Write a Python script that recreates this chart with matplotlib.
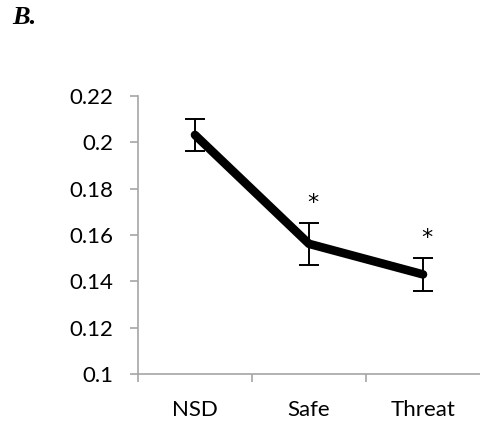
import matplotlib
matplotlib.use("Agg")
import matplotlib.pyplot as plt
import numpy as np

# values
groups = ["NSD", "Safe", "Threat"]
means = [0.2032, 0.1562, 0.1430]
errors = [0.0068, 0.0090, 0.0070]
signif = ["", "*", "*"]

axis_grey = "#a6a6a6"
x = np.arange(1, len(groups) + 1)

fig = plt.figure(figsize=(4.8, 4.25), dpi=100)
ax = fig.add_axes([0.2875, 0.12, 0.7125, 0.654])

ax.plot(x, means, color="black", lw=6.2, solid_capstyle="round",
        solid_joinstyle="round", zorder=3)
ax.errorbar(x, means, yerr=errors, fmt="none", ecolor="black",
            elinewidth=1.4, capsize=7.5, capthick=1.4, zorder=2)
for xi, m, e, s in zip(x, means, errors, signif):
    if s:
        ax.text(xi + 0.03, m + e + 0.0085, s, ha="center", va="center",
                fontsize=16, family="DejaVu Sans")

ax.set_xlim(0.5, 3.5)
ax.set_ylim(0.1, 0.22)
ax.set_yticks(np.arange(0.10, 0.221, 0.02))
ax.set_yticklabels(["0.1", "0.12", "0.14", "0.16", "0.18", "0.2", "0.22"])

# excel style category axis: ticks between categories, labels at centres
ax.set_xticks([0.5, 1.5, 2.5])
ax.set_xticklabels([])
ax.set_xticks(x, minor=True)
ax.set_xticklabels(groups, minor=True)
ax.tick_params(axis="x", which="minor", length=0, pad=19, labelsize=16)
ax.tick_params(axis="x", which="major", length=6, width=1.2, color=axis_grey)
ax.tick_params(axis="y", length=6, width=1.2, color=axis_grey, pad=12,
               labelsize=16)
for lbl in ax.get_xticklabels(minor=True) + ax.get_yticklabels():
    lbl.set_family("Lato")

for side in ["top", "right"]:
    ax.spines[side].set_visible(False)
for side in ["left", "bottom"]:
    ax.spines[side].set_color(axis_grey)
    ax.spines[side].set_linewidth(1.2)

fig.text(0.025, 0.958, "B.", family="Liberation Serif", weight="bold",
         style="italic", fontsize=19, va="center")

fig.savefig("out.png", dpi=100)
